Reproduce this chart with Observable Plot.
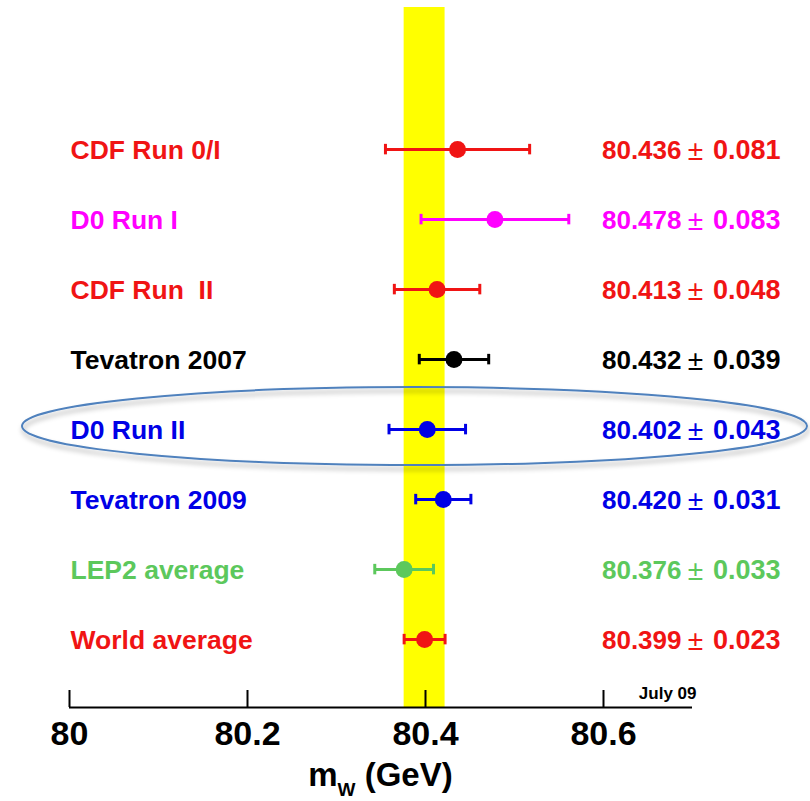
<!DOCTYPE html>
<html>
<head>
<meta charset="utf-8">
<script src="https://cdn.jsdelivr.net/npm/d3@7"></script>
<script src="https://cdn.jsdelivr.net/npm/@observablehq/plot@0.6"></script>
<style>
  html, body { margin: 0; padding: 0; background: #fff; overflow: hidden; }
</style>
</head>
<body>
<div id="chart"></div>
<script>
// W boson mass measurements (GeV)
const experiments = ["CDF Run 0/I", "D0 Run I", "CDF Run\u00a0 II", "Tevatron 2007", "D0 Run II", "Tevatron 2009", "LEP2 average", "World average"];
const masses = [80.436, 80.478, 80.413, 80.432, 80.402, 80.420, 80.376, 80.399];
const uncertainties = [0.081, 0.083, 0.048, 0.039, 0.043, 0.031, 0.033, 0.023];
const colors = ["#f01414", "#ff00ff", "#f01414", "#000000", "#0000e6", "#0000e6", "#5cc85c", "#f01414"];
const xTicks = [80, 80.2, 80.4, 80.6];
const highlighted = "D0 Run II";
const bandSource = "World average";
const dateTag = "July 09";

const SANS = "'Liberation Sans', Arial, Helvetica, sans-serif";

const rows = experiments.map((name, i) => ({
  name, i, mass: masses[i], err: uncertainties[i], color: colors[i]
}));
const caps = rows.flatMap(d => [
  {...d, x: d.mass - d.err},
  {...d, x: d.mass + d.err}
]);

// Ring with a soft shadow around the highlighted measurement
function highlightRing(index, {y}, values, dim) {
  const r = rows.find(d => d.name === highlighted);
  const cy = y(r.i) - 3;
  const left = 22, right = dim.width - 3;
  const g = d3.create("svg:g");
  const f = g.append("defs").append("filter")
    .attr("id", "ring-shadow").attr("x", "-10%").attr("y", "-50%")
    .attr("width", "120%").attr("height", "200%");
  f.append("feDropShadow")
    .attr("dx", 1).attr("dy", 4).attr("stdDeviation", 2.5)
    .attr("flood-color", "#000").attr("flood-opacity", 0.35);
  g.append("ellipse")
    .attr("cx", (left + right) / 2).attr("cy", cy)
    .attr("rx", (right - left) / 2).attr("ry", 39)
    .attr("fill", "none").attr("stroke", "#4f81bd").attr("stroke-width", 2)
    .attr("filter", "url(#ring-shadow)");
  return g.node();
}

// Axis title with subscript
function axisTitle(index, scales, values, dim) {
  const cx = (dim.marginLeft + dim.width - dim.marginRight) / 2;
  const t = d3.create("svg:text")
    .attr("x", cx).attr("y", dim.height - 15)
    .attr("text-anchor", "middle")
    .attr("font-family", SANS).attr("font-weight", "bold")
    .attr("font-size", 33).attr("fill", "#000");
  t.append("tspan").text("m");
  t.append("tspan").attr("font-size", 19).attr("dy", 10).text("W");
  t.append("tspan").attr("dy", -10).text("\u00a0(GeV)");
  return t.node();
}

const valueLabel = {y: "i", frameAnchor: "right", dy: 1, fill: "color", fontSize: 26};

const plot = Plot.plot({
  width: 810,
  height: 801,
  marginTop: 7,
  marginBottom: 94,
  marginLeft: 69,
  marginRight: 118,
  x: {domain: [80, 80.7], axis: null},
  y: {domain: [-2.03, 7.97], reverse: true, axis: null},
  color: {type: "identity"},
  style: {fontFamily: SANS, background: "white", overflow: "visible"},
  marks: [
    Plot.rect(rows.filter(d => d.name === bandSource), {
      x1: d => d.mass - d.err, x2: d => d.mass + d.err, fill: "#ffff00"
    }),
    highlightRing,
    Plot.ruleY([7.97], {stroke: "#000", strokeWidth: 2}),
    Plot.ruleX(xTicks, {insetTop: 683, stroke: "#000", strokeWidth: 2}),
    Plot.text(xTicks, {
      x: d => d, frameAnchor: "bottom", lineAnchor: "top", dy: 13,
      text: d => String(d), fontSize: 34, fontWeight: "bold", fill: "#000"
    }),
    Plot.text([dateTag], {
      frameAnchor: "bottom-right", textAnchor: "end", lineAnchor: "bottom",
      dx: 4, dy: -9, fontSize: 17, fontWeight: "bold", fill: "#000"
    }),
    axisTitle,
    Plot.ruleY(rows, {
      y: "i", x1: d => d.mass - d.err, x2: d => d.mass + d.err,
      stroke: "color", strokeWidth: 3
    }),
    Plot.ruleX(caps, {
      x: "x", y1: d => d.i - 0.075, y2: d => d.i + 0.075,
      stroke: "color", strokeWidth: 3
    }),
    Plot.dot(rows, {x: "mass", y: "i", r: 8.5, fill: "color", stroke: "none"}),
    Plot.text(rows, {
      y: "i", frameAnchor: "left", textAnchor: "start", dx: 1, dy: 1,
      text: "name", fill: "color", fontSize: 26.5, fontWeight: "bold"
    }),
    // value ± uncertainty, with a lighter ± sign
    Plot.text(rows, {
      ...valueLabel, textAnchor: "end", dx: -11,
      text: d => d.mass.toFixed(3), fontWeight: "bold"
    }),
    Plot.text(rows, {
      ...valueLabel, textAnchor: "middle", dx: 3, fontSize: 28,
      text: () => "±", fontWeight: "normal"
    }),
    Plot.text(rows, {
      ...valueLabel, textAnchor: "end", dx: 88, fontSize: 27,
      text: d => d.err.toFixed(3), fontWeight: "bold"
    })
  ]
});

document.getElementById("chart").append(plot);
</script>
</body>
</html>
